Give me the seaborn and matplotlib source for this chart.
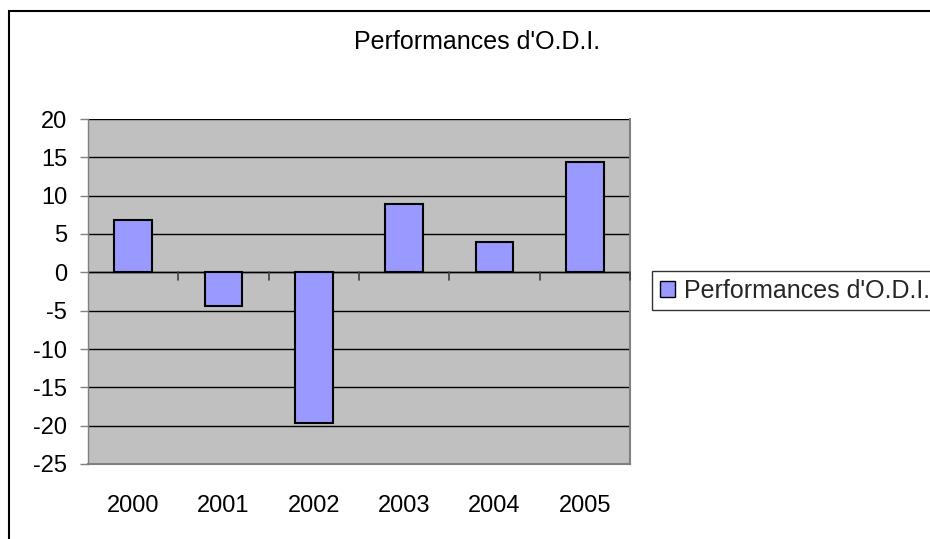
import matplotlib
matplotlib.use("Agg")
import matplotlib.pyplot as plt
import seaborn as sns
import pandas as pd
from matplotlib.patches import Rectangle, Patch

years = ["2000", "2001", "2002", "2003", "2004", "2005"]
values = [6.8, -4.4, -19.6, 8.9, 3.9, 14.4]
series_name = "Performances d'O.D.I."
yticks = [20, 15, 10, 5, 0, -5, -10, -15, -20, -25]

sns.set_theme(style="white")
plt.rcParams["font.family"] = ["Liberation Sans", "DejaVu Sans"]

df = pd.DataFrame({"year": years, "value": values})

fig = plt.figure(figsize=(9.3, 5.39), dpi=100)
ax = fig.add_axes([88 / 930, 1 - 464 / 539, (630 - 88) / 930, (464 - 119) / 539])

# outer chart frame
fig.patches.append(Rectangle((9 / 930, -0.1), 1.2, 1 - 11 / 539 + 0.1, transform=fig.transFigure,
                             fill=False, edgecolor="black", linewidth=1.5, clip_on=False))

ax.set_facecolor("#C0C0C0")
sns.barplot(data=df, x="year", y="value", color="#9999FF", edgecolor="black",
            linewidth=1.5, width=0.42, saturation=1, ax=ax, zorder=3)

ax.set_ylim(-25, 20)
ax.set_yticks(yticks)
ax.set_yticklabels([str(t) for t in yticks])
ax.set_xlim(-0.5, 5.5)
ax.yaxis.grid(True, color="black", linewidth=1.0)
ax.set_axisbelow(True)
ax.set_xlabel("")
ax.set_ylabel("")

for side in ["top", "bottom", "right"]:
    ax.spines[side].set_color("#808080")
    ax.spines[side].set_linewidth(1.5)
ax.spines["top"].set_visible(False)
ax.spines["left"].set_color("#808080")
ax.spines["left"].set_linewidth(1.0)

ax.tick_params(axis="y", which="both", left=True, length=6, width=1, color="#808080",
               labelsize=17, pad=9, labelcolor="black")
ax.tick_params(axis="x", which="both", bottom=False, labelsize=17, pad=16, labelcolor="black")

# category separator ticks on zero line
for b in range(1, 7):
    ax.plot([b - 0.5, b - 0.5], [0, -1.0], color="#404040", linewidth=1.2, zorder=4,
            clip_on=False)
ax.axhline(0, color="black", linewidth=1.0, zorder=2)

fig.text(477 / 930, 1 - 42 / 539, series_name, ha="center", va="center",
         fontsize=18, color="black")

handle = Patch(facecolor="#9999FF", edgecolor="black", linewidth=1.0)
leg = fig.legend(handles=[handle], labels=[series_name], loc="upper left",
                 bbox_to_anchor=(652 / 930, 1 - 271 / 539), fontsize=18, frameon=True,
                 fancybox=False, edgecolor="black", borderpad=0.3, handlelength=0.6,
                 handleheight=0.6, handletextpad=0.36, borderaxespad=0)
leg.get_frame().set_linewidth(1.0)

fig.savefig("out.png", dpi=100)
